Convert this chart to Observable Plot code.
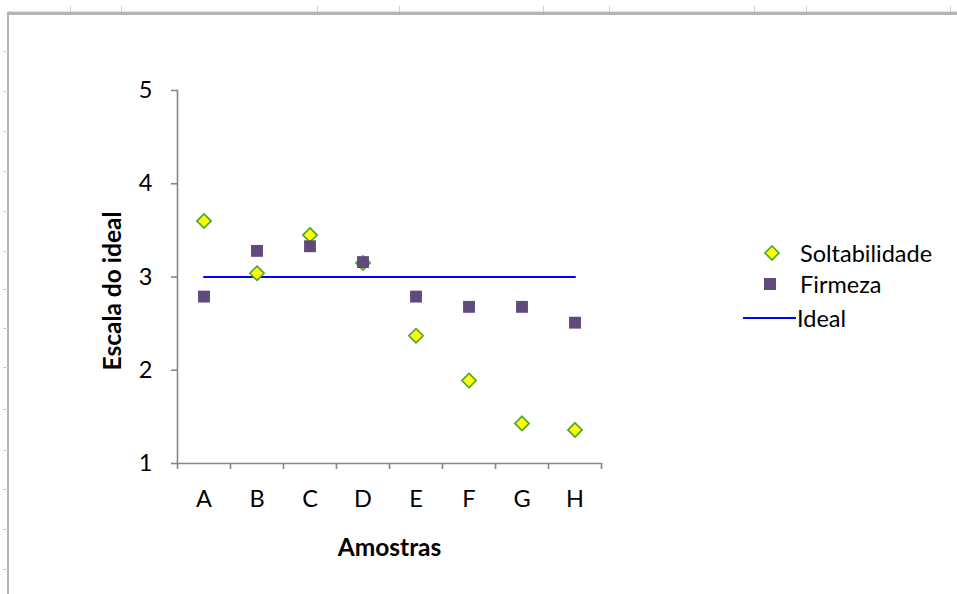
<!DOCTYPE html>
<html>
<head>
<meta charset="utf-8">
<script src="https://cdn.jsdelivr.net/npm/d3@7"></script>
<script src="https://cdn.jsdelivr.net/npm/@observablehq/plot@0.6"></script>
<style>
  html, body { margin: 0; padding: 0; background: #fff; }
  #sheet { position: relative; width: 957px; height: 594px; overflow: hidden; background: #fff; font-family: Lato, "Noto Sans", sans-serif; }
  #sheet svg.chart { position: absolute; left: 0; top: 0; }
  .border-top { position: absolute; left: 8px; right: 0; top: 11px; height: 3px; background: #b4b4b4; border-top: 1px solid #e2e2e2; }
  .border-left { position: absolute; left: 7px; top: 12px; bottom: 0; width: 2px; background: #b4b4b4; }
  .tick-top { position: absolute; top: 6px; width: 1px; height: 6px; background: #d0d0d0; }
  .tick-left { position: absolute; left: 3px; width: 5px; height: 1px; background: #d0d0d0; }
  #legend { position: absolute; left: 740px; top: 238px; font-size: 23.5px; color: #000; }
  #legend .row { position: absolute; left: 0; height: 30px; display: flex; align-items: center; white-space: nowrap; }
  #legend svg { display: block; flex: none; }
</style>
</head>
<body>
<div id="sheet">
  <div class="border-top"></div>
  <div class="border-left"></div>
  <div id="legend"></div>
</div>
<script>
// Sample scores on the ideal scale
const categories = ["A", "B", "C", "D", "E", "F", "G", "H"];
const soltabilidade = [3.6, 3.04, 3.45, 3.15, 2.37, 1.89, 1.43, 1.36];
const firmeza = [2.79, 3.28, 3.33, 3.16, 2.79, 2.68, 2.68, 2.51];
const ideal = [3, 3, 3, 3, 3, 3, 3, 3];
const yTicks = [1, 2, 3, 4, 5];

const rows = categories.map((c, i) => ({
  cat: c,
  pos: i + 0.5,
  soltabilidade: soltabilidade[i],
  firmeza: firmeza[i],
  ideal: ideal[i]
}));

const boundaries = d3.range(categories.length + 1);
const centers = rows.map(d => d.pos);

const axisGrey = "#868686";
const diamondFill = "#ffff00";
const diamondStroke = "#4ea72e";
const squareFill = "#604a7b";
const idealColor = "#0000ff";
const font = "Lato, 'Noto Sans', sans-serif";
const fs = 23.5;

const chart = Plot.plot({
  width: 957,
  height: 594,
  marginLeft: 177,
  marginRight: 356,
  marginTop: 90,
  marginBottom: 131,
  style: { fontFamily: font, fontSize: fs + "px", background: "transparent", color: "#000" },
  x: { type: "linear", domain: [0, categories.length], axis: null },
  y: { type: "linear", domain: [1, 5], axis: null },
  marks: [
    Plot.frame({ anchor: "left", stroke: axisGrey, strokeWidth: 1.6 }),
    Plot.frame({ anchor: "bottom", stroke: axisGrey, strokeWidth: 1.6 }),
    Plot.axisY({
      ticks: yTicks, tickSize: 6, tickPadding: 19, tickFormat: d3.format("d"),
      stroke: axisGrey, strokeWidth: 1.6, fill: "#000", fontSize: fs, label: null
    }),
    Plot.axisX({
      ticks: boundaries, tickSize: 6, tickFormat: () => "",
      stroke: axisGrey, strokeWidth: 1.6, label: null
    }),
    Plot.axisX({
      ticks: centers, tickSize: 0, tickPadding: 27,
      tickFormat: v => categories[Math.round(v - 0.5)],
      fill: "#000", fontSize: fs, label: null
    }),
    Plot.line(rows, { x: "pos", y: "ideal", stroke: idealColor, strokeWidth: 2 }),
    Plot.dot(rows, {
      x: "pos", y: "soltabilidade", symbol: "diamond2", r: 6.4,
      fill: diamondFill, stroke: diamondStroke, strokeWidth: 1.7
    }),
    Plot.dot(rows, {
      x: "pos", y: "firmeza", symbol: "square", r: 6.7,
      fill: squareFill, stroke: "none"
    }),
    Plot.text(["Amostras"], {
      frameAnchor: "bottom", textAnchor: "middle", dy: 92,
      fontWeight: "bold", fontSize: 24.5, fill: "#000"
    }),
    Plot.text(["Escala do ideal"], {
      frameAnchor: "left", textAnchor: "middle", dx: -64, dy: 14, rotate: -90,
      fontWeight: "bold", fontSize: 24.5, fill: "#000"
    })
  ]
});
chart.classList.add("chart");
document.getElementById("sheet").appendChild(chart);

// Spreadsheet ruler marks around the sheet edge
const sheet = document.getElementById("sheet");
[70, 121, 317, 399, 543, 609, 754, 806, 950].forEach(x => {
  const t = document.createElement("div");
  t.className = "tick-top"; t.style.left = x + "px"; sheet.appendChild(t);
});
[51, 91, 131, 171, 211, 251, 289, 328, 367, 409, 450, 489, 529, 569].forEach(y => {
  const t = document.createElement("div");
  t.className = "tick-left"; t.style.top = y + "px"; sheet.appendChild(t);
});

// Legend
const legend = document.getElementById("legend");
const items = [
  { label: "Soltabilidade", top: 0,
    swatch: `<svg width="60" height="30"><path d="M32,8 L39,15 L32,22 L25,15 Z" fill="${diamondFill}" stroke="${diamondStroke}" stroke-width="1.7"/></svg>` },
  { label: "Firmeza", top: 31,
    swatch: `<svg width="60" height="30"><rect x="24" y="9" width="12" height="12" fill="${squareFill}"/></svg>` },
  { label: "Ideal", top: 65,
    swatch: `<svg width="57" height="30"><line x1="3" x2="56" y1="15" y2="15" stroke="${idealColor}" stroke-width="2"/></svg>` }
];
items.forEach(it => {
  const row = document.createElement("div");
  row.className = "row";
  row.style.top = it.top + "px";
  row.innerHTML = it.swatch + `<span>${it.label}</span>`;
  legend.appendChild(row);
});
</script>
</body>
</html>
